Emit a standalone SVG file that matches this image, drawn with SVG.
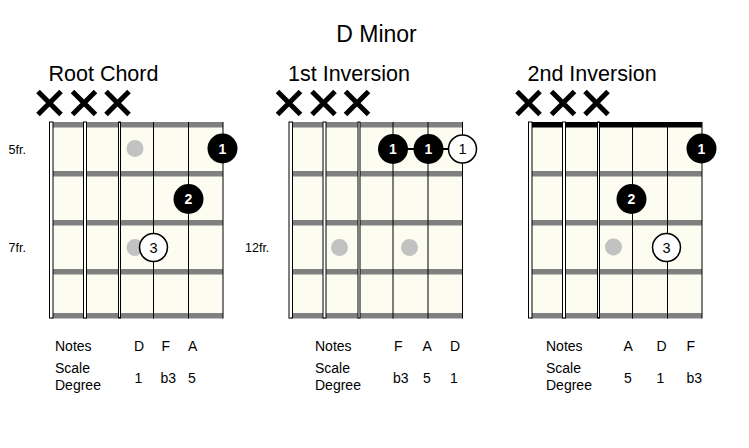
<svg xmlns="http://www.w3.org/2000/svg" xmlns:xlink="http://www.w3.org/1999/xlink" width="749" height="448" viewBox="0 0 749 448">
<style>
text{font-family:"Liberation Sans",Arial,Helvetica,sans-serif;fill:#000}
.title{font-size:23px}
.head{font-size:21.5px}
.fr{font-size:12.5px}
.tb{font-size:14px}
.fret{fill:#808080}
.str{fill:#fff;stroke:#000;stroke-width:1}
.sl{stroke:#000;stroke-width:1}
.mark{fill:#c2c2c2}
.fb{fill:#000}
.fw{fill:#fff;stroke:#000;stroke-width:1.5}
.nb{font-size:14px;font-weight:bold;fill:#fff;text-anchor:middle}
.nw{font-size:14.5px;fill:#000;text-anchor:middle}
.x{fill:none;stroke:#000;stroke-width:5}
.bar{stroke:#000;stroke-width:2}
</style>
<defs>
<g id="board">
<rect x="51" y="122" width="172" height="196" fill="#fcfcf1"/>
<rect x="51" y="122" width="172" height="5.5" fill="currentColor"/>
<rect class="fret" x="51" y="171" width="172" height="5.5"/>
<rect class="fret" x="51" y="220" width="172" height="5.5"/>
<rect class="fret" x="51" y="269" width="172" height="5.5"/>
<rect class="fret" x="51" y="313" width="172" height="5.5"/>
<rect class="str" x="49.5" y="122" width="3.5" height="196"/>
<rect class="str" x="83.5" y="122" width="3" height="196"/>
<rect class="str" x="118.5" y="122" width="2" height="196"/>
<line class="sl" x1="153.5" y1="122" x2="153.5" y2="318.5"/>
<line class="sl" x1="188.5" y1="122" x2="188.5" y2="318.5"/>
<line class="sl" x1="223" y1="122" x2="223" y2="318.5"/>
</g>
<path id="mutes" class="x" d="M38 91.5L61 114.5M61 91.5L38 114.5M72.5 91.5L95.5 114.5M95.5 91.5L72.5 114.5M106 91.5L129 114.5M129 91.5L106 114.5"/>
</defs>
<rect width="749" height="448" fill="#fff"/>
<text class="title" x="376.5" y="41.5" text-anchor="middle">D Minor</text>

<g id="root-chord">
<use xlink:href="#board" href="#board" style="color:#808080"/>
<use xlink:href="#mutes" href="#mutes"/>
<text class="head" x="48.5" y="81">Root Chord</text>
<text class="fr" x="8.5" y="153.5">5fr.</text>
<text class="fr" x="8.5" y="251.5">7fr.</text>
<circle class="mark" cx="135" cy="148.5" r="8.5"/>
<circle class="mark" cx="135" cy="247.5" r="8.5"/>
</g>

<g id="first-inversion">
<use xlink:href="#board" href="#board" transform="translate(239.5 0)" style="color:#808080"/>
<use xlink:href="#mutes" href="#mutes" transform="translate(239.5 0)"/>
<text class="head" x="288" y="81">1st Inversion</text>
<text class="fr" x="245" y="251.5">12fr.</text>
<circle class="mark" cx="339.5" cy="247.5" r="8.5"/>
<circle class="mark" cx="409.5" cy="247.5" r="8.5"/>
</g>

<g id="second-inversion">
<use xlink:href="#board" href="#board" transform="translate(479 0)" style="color:#000"/>
<use xlink:href="#mutes" href="#mutes" transform="translate(479 0)"/>
<text class="head" x="527.5" y="81">2nd Inversion</text>
<circle class="mark" cx="613.5" cy="247" r="8.5"/>
</g>

<g id="connectors">
<line class="bar" x1="393" y1="149" x2="449" y2="149"/>
</g>

<g id="fingers">
<g id="rc-f1"><circle class="fb" cx="222.5" cy="148.5" r="15"/><text class="nb" x="222.5" y="153.5">1</text></g>
<g id="rc-f2"><circle class="fb" cx="188.5" cy="199" r="15"/><text class="nb" x="188.5" y="204">2</text></g>
<g id="rc-f3"><circle class="fw" cx="153.5" cy="247.5" r="14"/><text class="nw" x="153.5" y="252.7">3</text></g>
<g id="fi-f1a"><circle class="fb" cx="393" cy="149" r="15"/><text class="nb" x="393" y="154">1</text></g>
<g id="fi-f1b"><circle class="fb" cx="428.5" cy="149" r="15"/><text class="nb" x="428.5" y="154">1</text></g>
<g id="fi-f1c"><circle class="fw" cx="462.5" cy="149" r="14"/><text class="nw" x="462.5" y="154.2">1</text></g>
<g id="si-f1"><circle class="fb" cx="701.5" cy="148.5" r="15"/><text class="nb" x="701.5" y="153.5">1</text></g>
<g id="si-f2"><circle class="fb" cx="631.5" cy="199" r="15"/><text class="nb" x="631.5" y="204">2</text></g>
<g id="si-f3"><circle class="fw" cx="666.5" cy="247.5" r="14"/><text class="nw" x="666.5" y="252.7">3</text></g>
</g>

<g id="table-root">
<text class="tb" x="55" y="351">Notes</text>
<text class="tb" x="55" y="373">Scale</text>
<text class="tb" x="55" y="389.5">Degree</text>
<text class="tb" x="134" y="351">D</text>
<text class="tb" x="161.5" y="351">F</text>
<text class="tb" x="188" y="351">A</text>
<text class="tb" x="134.5" y="383">1</text>
<text class="tb" x="160.5" y="383">b3</text>
<text class="tb" x="188" y="383">5</text>
</g>
<g id="table-first">
<text class="tb" x="315" y="351">Notes</text>
<text class="tb" x="315" y="373">Scale</text>
<text class="tb" x="315" y="389.5">Degree</text>
<text class="tb" x="394" y="351">F</text>
<text class="tb" x="422.5" y="351">A</text>
<text class="tb" x="450" y="351">D</text>
<text class="tb" x="393" y="383">b3</text>
<text class="tb" x="423" y="383">5</text>
<text class="tb" x="450" y="383">1</text>
</g>
<g id="table-second">
<text class="tb" x="546" y="351">Notes</text>
<text class="tb" x="546" y="373">Scale</text>
<text class="tb" x="546" y="389.5">Degree</text>
<text class="tb" x="623.5" y="351">A</text>
<text class="tb" x="656.5" y="351">D</text>
<text class="tb" x="686.5" y="351">F</text>
<text class="tb" x="624" y="383">5</text>
<text class="tb" x="656.5" y="383">1</text>
<text class="tb" x="686.5" y="383">b3</text>
</g>
</svg>
